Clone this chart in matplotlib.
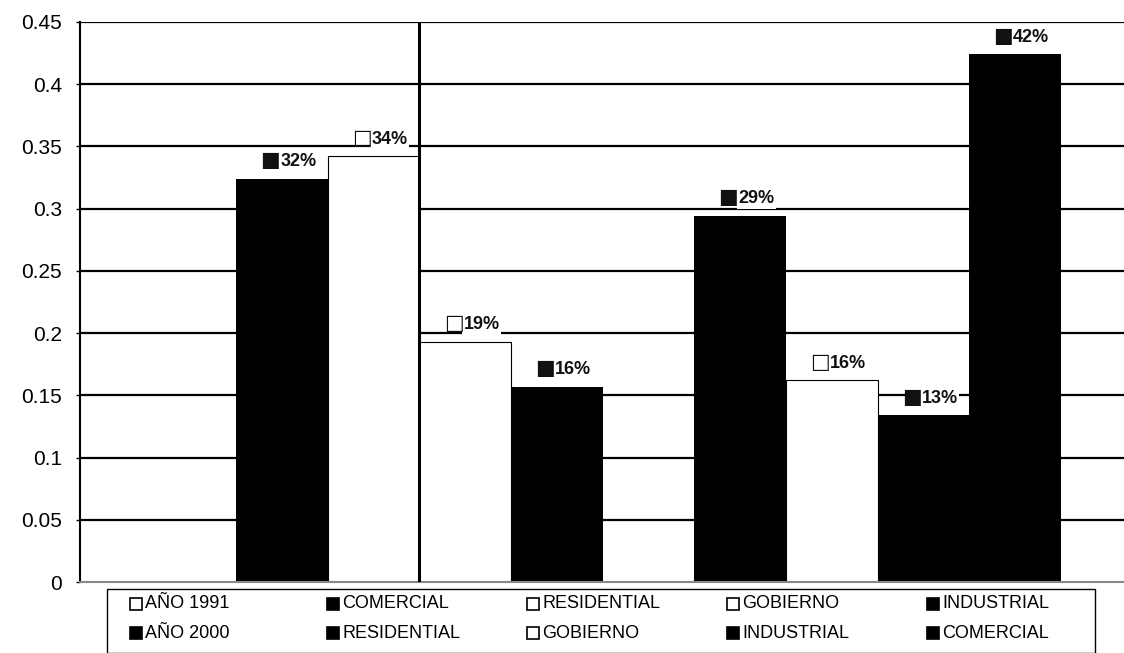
import matplotlib
matplotlib.use('Agg')
import matplotlib.pyplot as plt
import matplotlib.patches as mpatches
import numpy as np

# Consumo por sector, dos periodos
years = ['AÑO 1991', 'AÑO 2000']
sectors_1991 = ['COMERCIAL', 'RESIDENTIAL', 'GOBIERNO', 'INDUSTRIAL']
sectors_2000 = ['RESIDENTIAL', 'GOBIERNO', 'INDUSTRIAL', 'COMERCIAL']
values_1991 = [0.324, 0.342, 0.193, 0.157]
values_2000 = [0.294, 0.162, 0.134, 0.424]

yticks = [0, 0.05, 0.1, 0.15, 0.2, 0.25, 0.3, 0.35, 0.4, 0.45]
ytick_labels = ['0', '0.05', '0.1', '0.15', '0.2', '0.25', '0.3', '0.35', '0.4', '0.45']

# fill per bar: black or white
fills_1991 = ['black', 'white', 'white', 'black']
fills_2000 = ['black', 'white', 'black', 'black']
year_fills = ['white', 'black']

FONT = ['Liberation Sans', 'DejaVu Sans']
plt.rcParams['font.family'] = FONT

W, H = 1124, 653
fig = plt.figure(figsize=(W / 100, H / 100), dpi=100)
fig.patch.set_facecolor('white')
ax = fig.add_axes([80 / W, 1 - 582 / H, 1 - 80 / W, (582 - 22) / H])

x1 = np.arange(len(values_1991))
x2 = np.arange(len(values_2000)) + len(values_1991) + 1
xs = np.concatenate([x1, x2])
vals = values_1991 + values_2000
fills = fills_1991 + fills_2000

for y in yticks[1:]:
    ax.axhline(y, color='black', lw=1.6, zorder=1)

bars = ax.bar(xs, vals, width=1.0, color=fills, edgecolor='black', linewidth=0.8, zorder=2)
for b, f in zip(bars, fills):
    if f == 'black':
        b.set_linewidth(0)

# thick divider on the left edge of the third bar
ax.axvline(bars[2].get_x(), color='black', lw=2.2, zorder=3)

# data labels: legend key square followed by the percentage
for b, v, f in zip(bars, vals, fills):
    cx = b.get_x() + b.get_width() / 2
    ax.text(cx - 0.02, v + 0.007, '■' if f == 'black' else '□',
            ha='right', va='bottom', fontsize=15, family=['DejaVu Sans'],
            color='#111111', zorder=5)
    ax.text(cx - 0.02, v + 0.007, f'{v:.0%}',
            ha='left', va='bottom', fontsize=13, fontweight='bold',
            color='#111111', zorder=4,
            bbox=dict(facecolor='white', edgecolor='none', pad=1.0))

ax.set_xlim(-2.205, 9.19)
ax.set_ylim(0, 0.45)
ax.set_xticks([])
ax.set_yticks(yticks)
ax.set_yticklabels(ytick_labels, fontsize=15)
ax.tick_params(axis='y', length=3, width=1, pad=10, colors='black')
for s in ['top', 'right']:
    ax.spines[s].set_visible(False)
ax.spines['left'].set_linewidth(1.5)
ax.spines['bottom'].set_color('#888888')
ax.spines['bottom'].set_linewidth(1.5)

# legend table below the axis
fig.add_artist(mpatches.Rectangle((107 / W, 0), (1095 - 107) / W, 1 - 589 / H,
                                  transform=fig.transFigure, facecolor='white',
                                  edgecolor='black', linewidth=1.0))
col_x = [130, 327, 527, 727, 927]
row_y = [604, 633]
rows = [([years[0]] + sectors_1991, [year_fills[0]] + fills_1991),
        ([years[1]] + sectors_2000, [year_fills[1]] + fills_2000)]
for ry, (names, cols) in zip(row_y, rows):
    for cx, name, c in zip(col_x, names, cols):
        fig.add_artist(mpatches.Rectangle((cx / W, 1 - (ry + 6) / H), 12 / W, 12 / H,
                                          transform=fig.transFigure, facecolor=c,
                                          edgecolor='black', linewidth=1.2))
        fig.text((cx + 15) / W, 1 - ry / H, name, fontsize=13, va='center',
                 ha='left', color='black')

plt.savefig('out.png', dpi=100, facecolor='white')
plt.close()
